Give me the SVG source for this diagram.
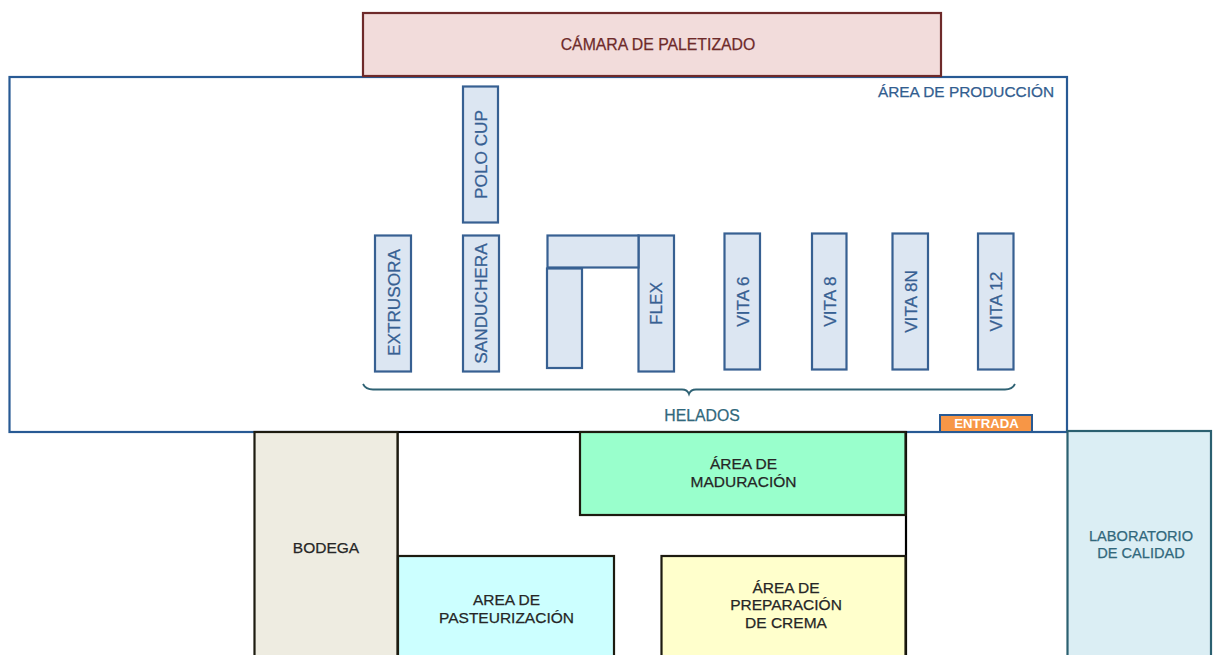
<svg xmlns="http://www.w3.org/2000/svg" width="1216" height="655" viewBox="0 0 1216 655">
<style>
text{font-family:"Liberation Sans",Arial,sans-serif;font-size:15.5px;text-anchor:middle;stroke-width:.25px}
.m rect{fill:#dce6f2;stroke:#376092;stroke-width:2.2}
.m text{fill:#376092;stroke:#376092;font-size:17.2px}
.d text{fill:#262626;stroke:#262626}
.d rect{stroke:#1d1b10;stroke-width:2.2}
</style>
<rect width="1216" height="655" fill="#fff"/>
<g id="produccion"><rect x="9.5" y="77" width="1057.5" height="355" fill="#fff" stroke="#285a94" stroke-width="2.2"/>
<text x="966" y="96.500" fill="#325d8f" stroke="#325d8f" style="font-size:15.4px">ÁREA DE PRODUCCIÓN</text></g>
<g id="camara"><rect x="363" y="13" width="578" height="63" fill="#f2dcdb" stroke="#6e2a2a" stroke-width="2.2"/>
<text x="658" y="49.500" fill="#6e2a2a" stroke="#6e2a2a" style="font-size:15.800px">CÁMARA DE PALETIZADO</text></g>
<g id="polo-cup" class="m"><rect x="463" y="86.500" width="35" height="136"/><text transform="translate(486.500 154.500) rotate(-90)">POLO CUP</text></g>
<g id="extrusora" class="m"><rect x="375" y="235.500" width="36" height="136"/><text transform="translate(399.500 302.500) rotate(-90)">EXTRUSORA</text></g>
<g id="sanduchera" class="m"><rect x="463" y="235.500" width="36" height="136"/><text transform="translate(487 303.500) rotate(-90)">SANDUCHERA</text></g>
<g id="flex" class="m"><rect x="638.500" y="235.500" width="35.500" height="136"/><text transform="translate(662 303.500) rotate(-90)">FLEX</text></g>
<g id="flex-top" class="m"><rect x="547.500" y="235.500" width="91" height="32"/></g>
<g id="flex-left" class="m"><rect x="547" y="268.500" width="35" height="99.500"/></g>
<g id="vita-6" class="m"><rect x="724.500" y="233.500" width="35.500" height="136"/><text transform="translate(748.500 301.500) rotate(-90)">VITA 6</text></g>
<g id="vita-8" class="m"><rect x="812" y="233.500" width="34.500" height="136"/><text transform="translate(835.500 301.500) rotate(-90)">VITA 8</text></g>
<g id="vita-8n" class="m"><rect x="892.500" y="233.500" width="35.500" height="136"/><text transform="translate(916.500 301.500) rotate(-90)">VITA 8N</text></g>
<g id="vita-12" class="m"><rect x="978" y="233.500" width="35.500" height="136"/><text transform="translate(1002 301.500) rotate(-90)">VITA 12</text></g>
<g id="connectors"><path d="M363 384C365 388 368 389.500 373 389.500H682C686 389.500 688 391 689 394C690 391 692 389.500 696 389.500H1005C1010 389.500 1013 388 1015 384" fill="none" stroke="#2f6274" stroke-width="1.800"/></g>
<text id="helados" x="702" y="421" fill="#31687c" stroke="#31687c" style="font-size:15.800px">HELADOS</text>
<g id="entrada"><rect x="940" y="415" width="92" height="17" fill="#f79646" stroke="#285a94" stroke-width="2"/>
<text x="986.500" y="427.500" fill="#fff" style="font-size:13.200px;font-weight:bold">ENTRADA</text></g>
<g id="laboratorio"><rect x="1067.500" y="431" width="143.500" height="240" fill="#dbeef4" stroke="#2b6070" stroke-width="2.200"/>
<text x="1141" y="541" fill="#31687c" stroke="#31687c" style="font-size:14.600px">LABORATORIO</text><text x="1141" y="557.500" fill="#31687c" stroke="#31687c" style="font-size:14.600px">DE CALIDAD</text></g>
<g id="sala"><path d="M254 432H906V655M397.500 432V556" fill="none" stroke="#000" stroke-width="2.200"/></g>
<g id="bodega" class="d"><rect x="254.500" y="432" width="143" height="240" fill="#eeece1"/><text x="326" y="552.500">BODEGA</text></g>
<g id="maduracion" class="d"><rect x="580" y="432" width="325.500" height="83" fill="#99ffcc"/><text x="743.500" y="469">ÁREA DE</text><text x="743.500" y="487">MADURACIÓN</text></g>
<g id="pasteurizacion" class="d"><rect x="398" y="556" width="216" height="120" fill="#ccffff"/><text x="506.500" y="605">AREA DE</text><text x="506.500" y="622.500">PASTEURIZACIÓN</text></g>
<g id="crema" class="d"><rect x="661.500" y="556" width="244" height="120" fill="#ffffcc"/><text x="786" y="592.500">ÁREA DE</text><text x="786" y="610">PREPARACIÓN</text><text x="786" y="628">DE CREMA</text></g>
</svg>
